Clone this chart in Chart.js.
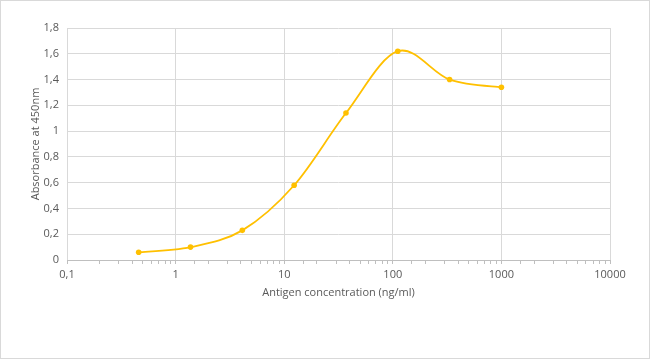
<!DOCTYPE html>
<html>
<head>
<meta charset="utf-8">
<script src="https://cdn.jsdelivr.net/npm/chart.js@4"></script>
<style>
  html, body { margin: 0; padding: 0; background: #fff; }
  #wrap { width: 650px; height: 359px; position: relative; }
</style>
</head>
<body>
<div id="wrap"><canvas id="chart" width="650" height="359"></canvas></div>
<script>
// concentrations (ng/ml) and absorbance
const CONCENTRATIONS = [0.457, 1.372, 4.115, 12.35, 37.04, 111.1, 333.3, 1000];
const ABSORBANCE     = [0.06, 0.10, 0.23, 0.58, 1.14, 1.62, 1.40, 1.34];
const X_MAJOR_TICKS  = [0.1, 1, 10, 100, 1000, 10000];

const LINE_COLOR = '#FFC000';
const GRID_COLOR = '#d9d9d9';
const TEXT_COLOR = '#595959';
const FONT = 'Open Sans, Liberation Sans, sans-serif';

const commaNum = v => String(Math.round(v * 10) / 10).replace('.', ',');
const isMajor = v => X_MAJOR_TICKS.some(t => Math.abs(Math.log10(v) - Math.log10(t)) < 1e-6);

// ── Outer frame like the Excel chart area ───────────────────────────────
const framePlugin = {
  id: 'frame',
  beforeDraw(chart) {
    const { ctx, width, height } = chart;
    ctx.save();
    ctx.fillStyle = '#fff';
    ctx.fillRect(0, 0, width, height);
    ctx.strokeStyle = GRID_COLOR;
    ctx.lineWidth = 1;
    ctx.strokeRect(0.5, 0.5, width - 1, height - 1);
    ctx.restore();
  }
};

// ── Excel-style smoothing: uniform Catmull-Rom control points ───────────
const excelSmoothPlugin = {
  id: 'excelSmooth',
  beforeDatasetDraw(chart, args) {
    const line = args.meta.dataset;
    if (!line) return;
    line.updateControlPoints(chart.chartArea);
    const pts = line.points;
    for (let i = 0; i < pts.length; i++) {
      const prev = pts[Math.max(i - 1, 0)];
      const next = pts[Math.min(i + 1, pts.length - 1)];
      const dx = (next.x - prev.x) / 6, dy = (next.y - prev.y) / 6;
      pts[i].cp1x = pts[i].x - dx; pts[i].cp1y = pts[i].y - dy;
      pts[i].cp2x = pts[i].x + dx; pts[i].cp2y = pts[i].y + dy;
    }
  }
};

new Chart(document.getElementById('chart'), {
  type: 'line',
  plugins: [framePlugin, excelSmoothPlugin],
  data: {
    datasets: [{
      data: CONCENTRATIONS.map((x, i) => ({ x, y: ABSORBANCE[i] })),
      borderColor: LINE_COLOR,
      backgroundColor: LINE_COLOR,
      borderWidth: 1.8,
      pointRadius: 2.8,
      pointBorderWidth: 0,
      tension: 0.4,
      fill: false,
    }]
  },
  options: {
    responsive: false,
    animation: false,
    layout: { padding: { left: 25, right: 40, top: 28, bottom: 56 } },
    plugins: { legend: { display: false }, tooltip: { enabled: false } },
    scales: {
      x: {
        type: 'logarithmic',
        min: 0.1,
        max: 10000,
        afterFit: s => { s.height = 43; },
        title: {
          display: true,
          text: 'Antigen concentration (ng/ml)',
          color: TEXT_COLOR,
          font: { family: FONT, size: 11 },
          padding: { top: 0 },
        },
        ticks: {
          autoSkip: false,
          maxRotation: 0,
          color: TEXT_COLOR,
          font: { family: FONT, size: 11 },
          padding: 4,
          callback: v => isMajor(v) ? commaNum(v).replace(/^(\d+),0$/, '$1') : '',
        },
        grid: {
          color: c => (c.tick && isMajor(c.tick.value)) ? GRID_COLOR : 'transparent',
          tickColor: '#bfbfbf',
          tickLength: 4,
          drawTicks: true,
        },
        border: { color: '#bfbfbf' },
      },
      y: {
        min: 0,
        max: 1.8,
        afterFit: s => { s.width = 42; },
        title: {
          display: true,
          text: 'Absorbance at 450nm',
          color: TEXT_COLOR,
          font: { family: FONT, size: 11 },
          padding: { bottom: 2 },
        },
        ticks: {
          stepSize: 0.2,
          color: TEXT_COLOR,
          font: { family: FONT, size: 11 },
          padding: 8,
          callback: v => commaNum(v),
        },
        grid: { color: GRID_COLOR, drawTicks: false },
        border: { display: false },
      }
    }
  }
});
</script>
</body>
</html>
